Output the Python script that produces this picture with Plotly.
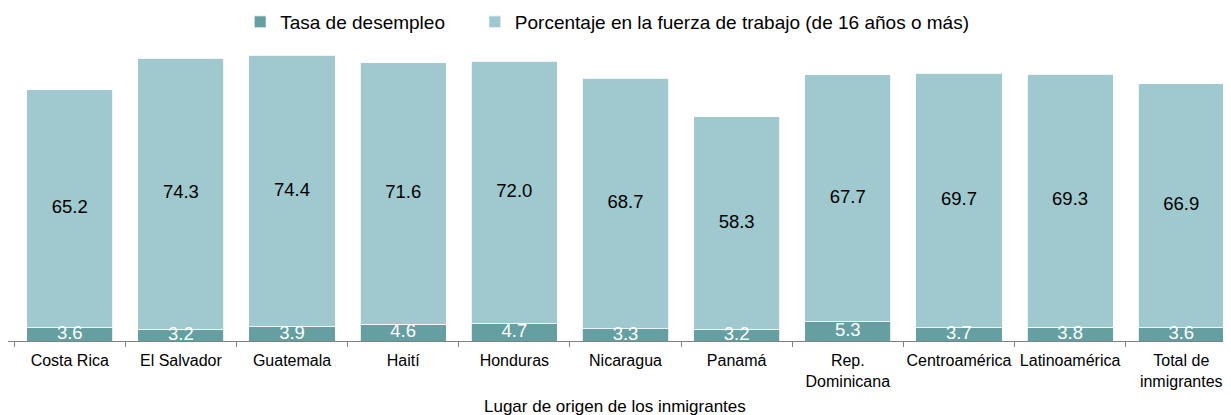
import plotly.graph_objects as go

categories = ["Costa Rica", "El Salvador", "Guatemala", "Haití", "Honduras", "Nicaragua",
              "Panamá", "Rep.<br>Dominicana", "Centroamérica", "Latinoamérica", "Total de<br>inmigrantes"]
desempleo = [3.6, 3.2, 3.9, 4.6, 4.7, 3.3, 3.2, 5.3, 3.7, 3.8, 3.6]
fuerza = [65.2, 74.3, 74.4, 71.6, 72.0, 68.7, 58.3, 67.7, 69.7, 69.3, 66.9]
x_title = "Lugar de origen de los inmigrantes"

dark = "#669fa1"
light = "#9fc8cf"
font_family = "Liberation Sans, Arial, sans-serif"

fig = go.Figure()
fig.add_trace(go.Bar(x=categories, y=desempleo, name="Tasa de desempleo",
                     marker=dict(color=dark, line=dict(color="white", width=0.8)),
                     hoverinfo="skip", legend="legend"))
fig.add_trace(go.Bar(x=categories, y=fuerza, name="Porcentaje en la fuerza de trabajo (de 16 años o más)",
                     marker=dict(color=light, line=dict(color="white", width=0.8)),
                     hoverinfo="skip", legend="legend2"))

# labels
fig.add_trace(go.Scatter(x=categories, y=[d / 2 for d in desempleo], mode="text",
                         text=[f"{d:.1f}" for d in desempleo],
                         textfont=dict(color="white", size=18.5, family=font_family),
                         showlegend=False, hoverinfo="skip", cliponaxis=True))
fig.add_trace(go.Scatter(x=categories, y=[d + f / 2 for d, f in zip(desempleo, fuerza)], mode="text",
                         text=[f"{f:.1f}" for f in fuerza],
                         textfont=dict(color="black", size=18.5, family=font_family),
                         showlegend=False, hoverinfo="skip", cliponaxis=False))

legend_common = dict(orientation="h", y=1.0925, yanchor="middle", xanchor="left",
                     font=dict(size=19), itemwidth=30, bgcolor="rgba(0,0,0,0)")

fig.update_layout(
    width=1235, height=412,
    barmode="stack", bargap=0.225,
    margin=dict(l=0, r=0, t=41, b=79, autoexpand=False),
    plot_bgcolor="white", paper_bgcolor="white",
    font=dict(family=font_family, size=16, color="black"),
    legend=dict(x=0.188, **legend_common),
    legend2=dict(x=0.378, **legend_common),
    xaxis=dict(showline=True, linecolor="#808080", linewidth=1, ticks="outside",
               tickson="boundaries", ticklen=5, tickcolor="#808080",
               ticklabelstandoff=5, tickangle=0,
               tickfont=dict(size=16), fixedrange=True),
    yaxis=dict(range=[0, 80], visible=False, showgrid=False, fixedrange=True),
    annotations=[dict(text=x_title, xref="paper", yref="paper", x=0.4915, y=0,
                      xanchor="center", yanchor="middle", yshift=-65, showarrow=False,
                      font=dict(size=17))],
)

fig.write_html("out.html")
